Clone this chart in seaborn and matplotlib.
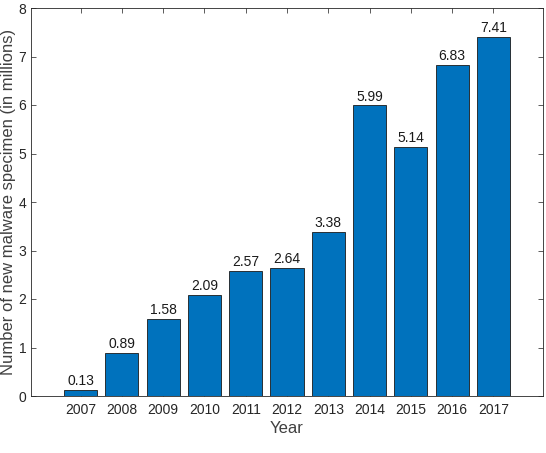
import matplotlib
matplotlib.use("Agg")
import matplotlib.pyplot as plt
import seaborn as sns
import pandas as pd

years = ["2007", "2008", "2009", "2010", "2011", "2012", "2013", "2014", "2015", "2016", "2017"]
values = [0.13, 0.89, 1.58, 2.09, 2.57, 2.64, 3.38, 5.99, 5.14, 6.83, 7.41]

sns.set_style("ticks")
plt.rcParams['font.family'] = ['Liberation Sans', 'DejaVu Sans']

df = pd.DataFrame({"Year": years, "Value": values})

fig = plt.figure(figsize=(5.46, 4.53), dpi=100)
ax = fig.add_axes([31/546, 1-396/453, (543-31)/546, (396-8)/453])

sns.barplot(data=df, x="Year", y="Value", ax=ax, color="#0072BD", saturation=1,
            width=0.8, edgecolor="#1a1a1a", linewidth=0.6)

for i, v in enumerate(values):
    ax.text(i, v + 0.04, f"{v:.2f}", ha="center", va="bottom", fontsize=10, color="#1a1a1a")

ax.set_xlim(-1.2, 11.2)
ax.set_ylim(0, 8)
ax.set_yticks(range(0, 9))
ax.set_xlabel("Year", fontsize=12, color="#404040", labelpad=3)
ax.set_ylabel("Number of new malware specimen (in millions)", fontsize=12, color="#404040", labelpad=1.5)
ax.tick_params(direction="in", top=True, right=True, labelsize=10,
               length=3.5, width=0.6, colors="#404040", labelcolor="#262626")
ax.tick_params(axis="x", pad=5)
ax.tick_params(axis="y", pad=3.5)
for s in ax.spines.values():
    s.set_visible(True)
    s.set_color("#262626")
    s.set_linewidth(0.6)

fig.savefig("out.png", dpi=100)
